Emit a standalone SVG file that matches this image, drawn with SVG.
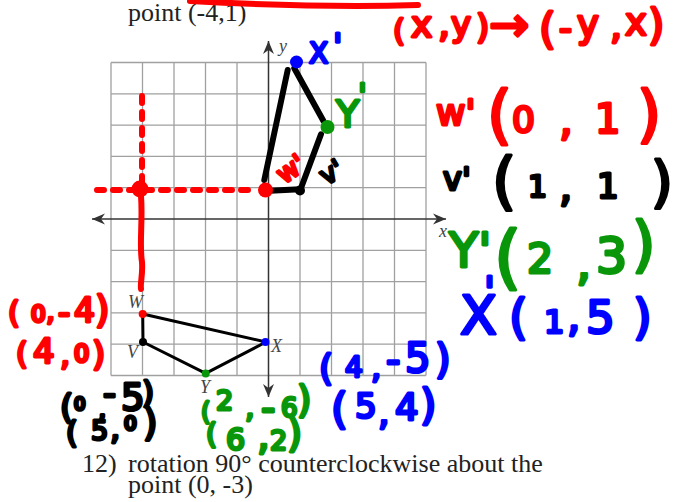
<svg xmlns="http://www.w3.org/2000/svg" width="691" height="502" viewBox="0 0 691 502">
<defs>
<style>
.grid{stroke:#a0a0a0;stroke-width:1.3;fill:none}
.axis{stroke:#333;stroke-width:1.5;fill:none}
.ws{font-family:"Liberation Serif","Times New Roman",serif;fill:#222}
.lab{font-family:"Liberation Serif","Times New Roman",serif;font-style:italic;fill:#444;font-size:18px}
.edge{stroke:#000;stroke-width:3;fill:none;stroke-linecap:round;stroke-linejoin:round}
.hand{stroke:#000;stroke-width:6;fill:none;stroke-linecap:round}
.rdash{stroke:#ff0000;stroke-width:6;fill:none;stroke-linecap:round;stroke-dasharray:7 9}
.rsolid{stroke:#ff0000;stroke-width:6;fill:none;stroke-linecap:round}
.hw{font-family:"DejaVu Sans",sans-serif;font-weight:normal;stroke-width:3;stroke-linejoin:round;stroke-linecap:round}
.s{stroke-width:3.6}
.r{fill:#ff0000;stroke:#ff0000}
.k{fill:#000;stroke:#000}
.g{fill:#0a960a;stroke:#0a960a}
.b{fill:#0000ff;stroke:#0000ff}
</style>
<marker id="ah" markerUnits="userSpaceOnUse" markerWidth="16" markerHeight="12" viewBox="-14 -6 16 12" refX="0" refY="0" orient="auto-start-reverse">
<path d="M0,0 L-13,-5.5 L-9,0 L-13,5.5 Z" fill="#333"/>
</marker>
</defs>
<rect width="691" height="502" fill="#fff"/>

<text class="ws" x="128" y="21" font-size="26">point (-4,1)</text>
<text class="ws" y="472" font-size="26"><tspan x="82">12)</tspan><tspan x="128">rotation 90° counterclockwise about the</tspan></text>
<text class="ws" x="128" y="493" font-size="26">point (0, -3)</text>

<g id="grid">
<path class="grid" d="M111,62.5V375.5M142.5,62.5V375.5M174,62.5V375.5M205.5,62.5V375.5M237,62.5V375.5M300,62.5V375.5M331.5,62.5V375.5M363,62.5V375.5M394.5,62.5V375.5M426,62.5V375.5
M111,62.5H426M111,93.8H426M111,125.1H426M111,156.4H426M111,187.7H426M111,250.3H426M111,281.6H426M111,312.9H426M111,344.2H426M111,375.5H426"/>
</g>
<g id="axes">
<line class="axis" x1="92" y1="219" x2="446" y2="219" marker-start="url(#ah)" marker-end="url(#ah)"/>
<line class="axis" x1="268.5" y1="41" x2="268.5" y2="397" marker-start="url(#ah)" marker-end="url(#ah)"/>
<text class="lab" x="279" y="52" font-size="17">y</text>
<text class="lab" x="439" y="237" font-size="17">x</text>
</g>

<path class="rsolid" d="M190,1 Q320,8 418,5"/>

<g id="connectors">
<path class="edge" d="M142.7,314 L266,342 L205.7,373.3 L143,342 Z"/>
<path class="hand" d="M264.3,180 L287.7,70"/>
<path class="hand" d="M294.3,68.3 L323.3,120.7"/>
<path class="hand" d="M321,134.3 L300,190.7"/>
<path class="hand" d="M270,190.7 L300,189.3"/>
<path class="rdash" d="M97,190 L252,190"/>
<path class="rdash" d="M142,96 L142,182"/>
<path class="rsolid" d="M141,196 C143,220 139,245 142,262 C143,275 140,283 141,289"/>
<circle cx="140" cy="189" r="8.5" fill="#ff0000"/>
</g>

<g id="node-W">
<circle cx="142.7" cy="314" r="4" fill="#ff0000"/>
<text class="lab" x="128" y="308">W</text>
</g>
<g id="node-V">
<circle cx="143" cy="342" r="4" fill="#000"/>
<text class="lab" x="127" y="358">V</text>
</g>
<g id="node-X">
<circle cx="265.5" cy="342" r="4" fill="#0000ff"/>
<text class="lab" x="271" y="352">X</text>
</g>
<g id="node-Y">
<circle cx="205.7" cy="373.5" r="4" fill="#0a960a"/>
<text class="lab" x="200" y="393">Y</text>
</g>

<g id="node-Wp">
<circle cx="265.5" cy="190" r="7.5" fill="#ff0000"/>
<text class="hw r" x="276" y="178" font-size="26" transform="rotate(-35 290 168)">w'</text>
</g>
<g id="node-Vp">
<circle cx="300" cy="190.5" r="5" fill="#000"/>
<text class="hw k" x="318" y="180" font-size="26" transform="rotate(-30 332 168)">v'</text>
</g>
<g id="node-Yp">
<circle cx="327.5" cy="127" r="7" fill="#0a960a"/>
<text class="hw g"><tspan x="336" y="127" font-size="38">Y</tspan><tspan x="358" y="106" font-size="32">'</tspan></text>
</g>
<g id="node-Xp">
<circle cx="296.5" cy="62" r="6.5" fill="#0000ff"/>
<text class="hw b"><tspan x="309" y="63" font-size="28">X</tspan><tspan x="333" y="58" font-size="34">'</tspan></text>
</g>

<g id="rule">
<text class="hw r"><tspan x="393" y="41" font-size="31">(</tspan><tspan x="411" y="37" font-size="36">x</tspan><tspan x="438" y="37" font-size="38">,</tspan><tspan x="451" y="36" font-size="34">y</tspan><tspan x="476" y="39" font-size="34">)</tspan><tspan x="489" y="41" font-size="48">→</tspan><tspan x="539" y="44" font-size="43">(</tspan><tspan x="559" y="40" font-size="36">-</tspan><tspan x="577" y="37" font-size="37">y</tspan><tspan x="610" y="39" font-size="38">,</tspan><tspan x="625" y="35" font-size="37">x</tspan><tspan x="648" y="40" font-size="42">)</tspan></text>
</g>

<g id="list-Wp">
<text class="hw r"><tspan x="436" y="125" font-size="36">w'</tspan><tspan x="487" y="137" font-size="64">(</tspan><tspan x="512" y="132" font-size="36">0</tspan><tspan x="559" y="135" font-size="44">,</tspan><tspan x="595" y="133" font-size="40">1</tspan><tspan x="637" y="135" font-size="62">)</tspan></text>
</g>
<g id="list-Vp">
<text class="hw k"><tspan x="443" y="190" font-size="32">v'</tspan><tspan x="492" y="202" font-size="62">(</tspan><tspan x="528" y="197" font-size="30">1</tspan><tspan x="559" y="201" font-size="42">,</tspan><tspan x="597" y="198" font-size="34">1</tspan><tspan x="651" y="201" font-size="56">)</tspan></text>
</g>
<g id="list-Yp">
<text class="hw g"><tspan x="449" y="267" font-size="48">Y'</tspan><tspan x="494" y="281" font-size="70">(</tspan><tspan x="527" y="273" font-size="41">2</tspan><tspan x="576" y="279" font-size="48">,</tspan><tspan x="596" y="273" font-size="49">3</tspan><tspan x="632" y="265" font-size="60">)</tspan></text>
</g>
<g id="list-Xp">
<text class="hw b"><tspan x="460" y="334" font-size="54">X</tspan><tspan x="484" y="306" font-size="40">'</tspan><tspan x="509" y="334" font-size="48">(</tspan><tspan x="544" y="333" font-size="32">1</tspan><tspan x="567" y="331" font-size="42">,</tspan><tspan x="586" y="333" font-size="45">5</tspan><tspan x="633" y="334" font-size="48">)</tspan></text>
</g>

<g id="work-W">
<text class="hw r"><tspan x="8" y="323" font-size="30">(</tspan><tspan class="s" x="31" y="322" font-size="23">0</tspan><tspan x="46" y="321" font-size="28">,</tspan><tspan x="58" y="324" font-size="34">-</tspan><tspan x="74" y="322" font-size="33">4</tspan><tspan x="95" y="323" font-size="37">)</tspan></text>
<text class="hw r"><tspan x="16" y="364" font-size="30">(</tspan><tspan x="33" y="363" font-size="34">4</tspan><tspan x="60" y="365" font-size="32">,</tspan><tspan class="s" x="74" y="362" font-size="24">0</tspan><tspan x="92" y="366" font-size="34">)</tspan></text>
</g>
<g id="work-V">
<text class="hw k"><tspan x="60" y="419" font-size="34">(</tspan><tspan class="s" x="74" y="410" font-size="18">0</tspan><tspan x="98" y="418" font-size="26">,</tspan><tspan x="103" y="405" font-size="36">-</tspan><tspan x="121" y="410" font-size="37">5</tspan><tspan x="142" y="403" font-size="31">)</tspan></text>
<text class="hw k"><tspan x="66" y="443" font-size="30">(</tspan><tspan x="91" y="440" font-size="27">5</tspan><tspan x="110" y="439" font-size="32">,</tspan><tspan class="s" x="124" y="430" font-size="20">0</tspan><tspan x="143" y="436" font-size="37">)</tspan></text>
</g>
<g id="work-Y">
<text class="hw g"><tspan x="201" y="420" font-size="24">(</tspan><tspan x="216" y="410" font-size="27">2</tspan><tspan x="245" y="417" font-size="30">,</tspan><tspan x="261" y="422" font-size="40">-</tspan><tspan x="281" y="417" font-size="26">6</tspan><tspan x="297" y="413" font-size="37">)</tspan></text>
<text class="hw g"><tspan x="206" y="444" font-size="28">(</tspan><tspan x="226" y="450" font-size="30">6</tspan><tspan x="257" y="449" font-size="40">,</tspan><tspan x="270" y="450" font-size="27">2</tspan><tspan x="287" y="447" font-size="39">)</tspan></text>
</g>
<g id="work-X">
<text class="hw b"><tspan x="319" y="380" font-size="36">(</tspan><tspan x="345" y="377" font-size="28">4</tspan><tspan x="371" y="378" font-size="32">,</tspan><tspan x="386" y="374" font-size="40">-</tspan><tspan x="405" y="372" font-size="40">5</tspan><tspan x="435" y="373" font-size="40">)</tspan></text>
<text class="hw b"><tspan x="331" y="424" font-size="43">(</tspan><tspan x="355" y="418" font-size="34">5</tspan><tspan x="378" y="425" font-size="36">,</tspan><tspan x="395" y="420" font-size="37">4</tspan><tspan x="420" y="420" font-size="42">)</tspan></text>
</g>
</svg>
